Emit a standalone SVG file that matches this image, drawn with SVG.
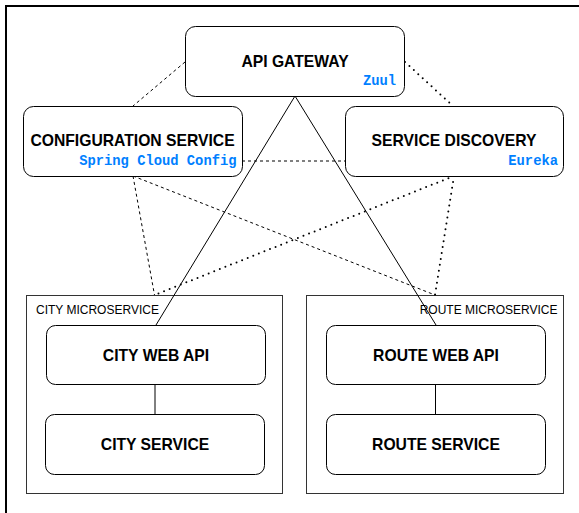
<svg xmlns="http://www.w3.org/2000/svg" width="579" height="513" viewBox="0 0 579 513">
<style>
.node{fill:#fff;stroke:#000;stroke-width:1}
.cont{fill:#fff;stroke:#333;stroke-width:1}
.title{font-family:"Liberation Sans",Arial,sans-serif;font-weight:bold;font-size:15.7px;fill:#000;text-anchor:middle}
.tech{font-family:"Liberation Mono","Courier New",monospace;font-weight:bold;font-size:13.8px;fill:#007FFF;text-anchor:end}
.clabel{font-family:"Liberation Sans",Arial,sans-serif;font-size:12px;fill:#000}
.solid{stroke:#000;stroke-width:1;fill:none}
.dash{stroke:#000;stroke-width:1;stroke-dasharray:3 3;fill:none}
.dot{stroke:#000;stroke-width:2;stroke-dasharray:0 6;stroke-linecap:round;fill:none}
</style>
<rect x="0" y="0" width="579" height="513" fill="#fff"/>
<path d="M6 513 V6 H579" fill="none" stroke="#000" stroke-width="2"/>
<g id="city-microservice">
<rect class="cont" x="26.5" y="295.5" width="256" height="198"/>
<text class="clabel" x="36" y="314">CITY MICROSERVICE</text>
</g>
<g id="route-microservice">
<rect class="cont" x="306.5" y="295.5" width="257" height="198"/>
<text class="clabel" x="557.5" y="314" text-anchor="end">ROUTE MICROSERVICE</text>
</g>
<g id="connectors">
<line class="solid" x1="295" y1="96" x2="156" y2="325"/>
<line class="solid" x1="295" y1="96" x2="436" y2="325"/>
<line class="dash" x1="185" y1="62" x2="133" y2="106"/>
<line class="dot" x1="405" y1="62" x2="453" y2="106"/>
<line class="dash" x1="242" y1="161" x2="345" y2="161"/>
<line class="dash" x1="133" y1="176" x2="154.5" y2="295"/>
<line class="dash" x1="133" y1="176" x2="435" y2="295"/>
<line class="dot" x1="454" y1="176" x2="154.5" y2="295"/>
<line class="dot" x1="454" y1="176" x2="435" y2="295"/>
<line class="solid" x1="155" y1="384" x2="155" y2="414" stroke="#333"/>
<line class="solid" x1="435.5" y1="384" x2="435.5" y2="414" stroke="#333"/>
</g>
<g id="api-gateway">
<rect class="node" x="185.5" y="26.5" width="219" height="70" rx="10"/>
<text class="title" x="295" y="66.5">API GATEWAY</text>
<text class="tech" x="396" y="85">Zuul</text>
</g>
<g id="configuration-service">
<rect class="node" x="23.5" y="106.5" width="219" height="70" rx="10"/>
<text class="title" x="132.5" y="146">CONFIGURATION SERVICE</text>
<text class="tech" x="236.5" y="165">Spring Cloud Config</text>
</g>
<g id="service-discovery">
<rect class="node" x="345.5" y="106.5" width="218" height="70" rx="10"/>
<text class="title" x="454" y="146">SERVICE DISCOVERY</text>
<text class="tech" x="558" y="165">Eureka</text>
</g>
<g id="city-web-api">
<rect class="node" x="46.5" y="325.5" width="219" height="59" rx="9"/>
<text class="title" x="156" y="361">CITY WEB API</text>
</g>
<g id="city-service">
<rect class="node" x="45.5" y="414.5" width="219" height="60" rx="9"/>
<text class="title" x="155" y="450">CITY SERVICE</text>
</g>
<g id="route-web-api">
<rect class="node" x="326.5" y="325.5" width="219" height="59" rx="9"/>
<text class="title" x="436" y="361">ROUTE WEB API</text>
</g>
<g id="route-service">
<rect class="node" x="326.5" y="414.5" width="219" height="60" rx="9"/>
<text class="title" x="436" y="450">ROUTE SERVICE</text>
</g>
</svg>
